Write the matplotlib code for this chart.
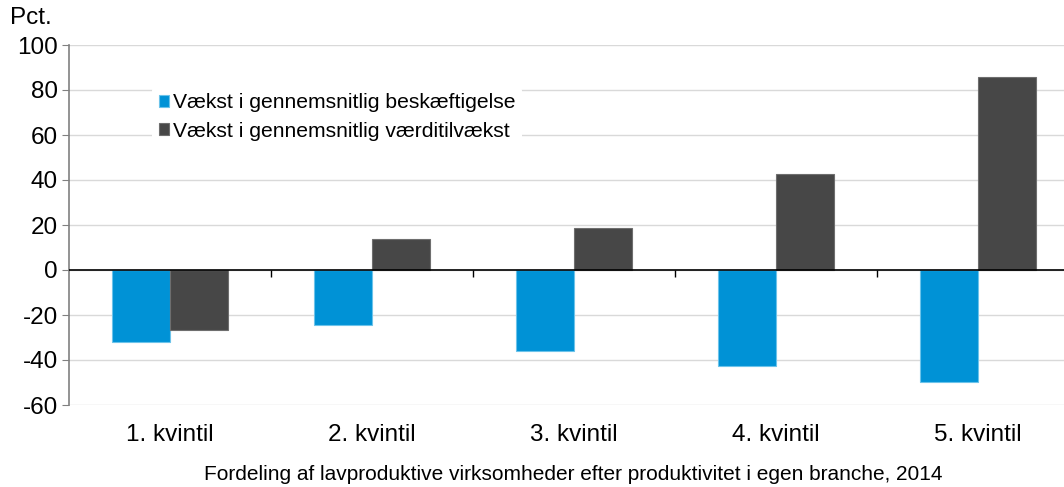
import numpy as np
import matplotlib
matplotlib.use("Agg")
import matplotlib.pyplot as plt

plt.rcParams['font.family'] = ['Liberation Sans', 'DejaVu Sans']

categories = ['1. kvintil', '2. kvintil', '3. kvintil', '4. kvintil', '5. kvintil']
beskaeftigelse = [-32.1, -24.6, -35.9, -42.7, -49.6]
vaerditilvaekst = [-26.8, 13.6, 18.8, 42.5, 85.8]
labels = ['Vækst i gennemsnitlig beskæftigelse', 'Vækst i gennemsnitlig værditilvækst']
yticks = [-60, -40, -20, 0, 20, 40, 60, 80, 100]

blue = '#0092d6'
dark = '#474747'

fig = plt.figure(figsize=(10.64, 4.87), dpi=100)
# plot area runs a bit past the right edge of the picture, like the original
ax = fig.add_axes([69 / 1064, 1 - 405 / 487, 1010 / 1064, 360 / 487])

x = np.arange(len(categories))
w = 0.287
ax.bar(x - w / 2, beskaeftigelse, w, color=blue, edgecolor='#6cc3ea', linewidth=0.8,
       label=labels[0], zorder=3)
ax.bar(x + w / 2, vaerditilvaekst, w, color=dark, edgecolor='#6e6e6e', linewidth=0.8,
       label=labels[1], zorder=3)

ax.set_xlim(-0.5, len(categories) - 0.5)
ax.set_ylim(-60, 100)
ax.set_yticks(yticks)
ax.set_yticklabels([str(t) for t in yticks], fontsize=17.5)
ax.yaxis.grid(True, color='#d9d9d9', linewidth=1)
ax.set_axisbelow(True)

ax.set_xticks(x)
ax.set_xticklabels(categories, fontsize=17.5)
ax.tick_params(axis='x', length=0, pad=14)
ax.tick_params(axis='y', length=5, color='#808080', pad=3)

for s in ['top', 'right', 'bottom']:
    ax.spines[s].set_visible(False)
ax.spines['left'].set_color('#808080')
ax.spines['left'].set_linewidth(1.2)

# zero line and category separators
ax.axhline(0, color='black', linewidth=1.2, zorder=4)
ax.vlines(x[:-1] + 0.5, -3.1, 0, color='black', linewidth=1, zorder=4)

leg = ax.legend(loc='upper left', bbox_to_anchor=(0.072, 0.913), frameon=True,
                fontsize=15.2, handlelength=0.5, handleheight=0.5,
                handletextpad=0.2, labelspacing=0.45, borderpad=0.3)
leg.get_frame().set_facecolor('white')
leg.get_frame().set_edgecolor('none')
leg.get_frame().set_alpha(1)

fig.text(10 / 1064, 1 - 18 / 487, 'Pct.', fontsize=17.5, va='center', ha='left')
fig.text(573 / 1064, 1 - 474 / 487,
         'Fordeling af lavproduktive virksomheder efter produktivitet i egen branche, 2014',
         fontsize=15, ha='center', va='center')

fig.savefig('out.png', dpi=100)
